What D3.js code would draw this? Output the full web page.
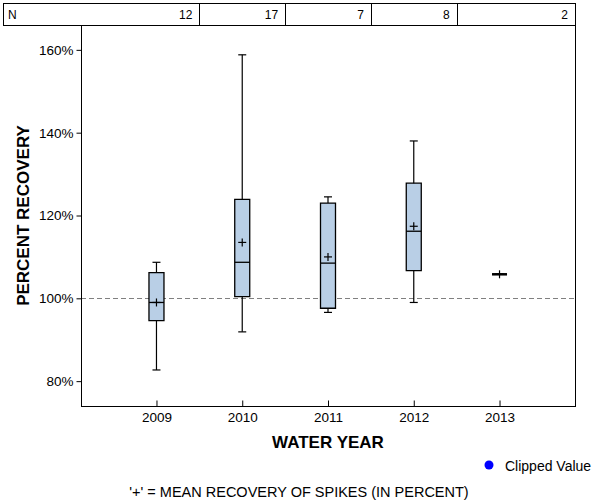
<!DOCTYPE html>
<html>
<head>
<meta charset="utf-8">
<script src="https://cdn.jsdelivr.net/npm/d3@7"></script>
<style>
  html, body { margin: 0; padding: 0; background: #fff; }
  svg { display: block; font-family: "Liberation Sans", Arial, sans-serif; }
</style>
</head>
<body>
<svg id="chart" width="600" height="500"></svg>
<script>
// ---- Data ----
const years       = [2009, 2010, 2011, 2012, 2013];
const nCounts     = [12, 17, 7, 8, 2];
const whiskerLow  = [82.7, 91.9, 96.6, 99.0, 105.8];
const q1          = [94.6, 100.4, 97.6, 106.7, 105.8];
const medians     = [99.0, 108.7, 108.5, 116.2, 105.8];
const q3          = [106.2, 123.9, 123.0, 127.8, 105.8];
const whiskerHigh = [108.7, 158.8, 124.5, 138.0, 105.8];
const means       = [99.0, 113.5, 110.0, 117.4, 105.8];
const yTicks      = [80, 100, 120, 140, 160];
const refValue    = 100;

// ---- Layout ----
const svg = d3.select("#chart");
const plot = { left: 81, right: 575, top: 25, bottom: 406 };
const x = d3.scaleLinear().domain([2008.12, 2013.88]).range([plot.left, plot.right]);
const y = d3.scaleLinear().domain([74, 166]).range([plot.bottom, plot.top]);

const boxW = 15, capW = 8, plusW = 8;

// ---- N table ----
const tbl = svg.append("g");
const tblTop = 3, tblBot = plot.top, tblLeft = 3;
tbl.append("rect").attr("x", tblLeft + 0.5).attr("y", tblTop + 0.5)
  .attr("width", plot.right - tblLeft).attr("height", tblBot - tblTop)
  .attr("fill", "none").attr("stroke", "#000").attr("stroke-width", 1);
const bounds = years.map((yr, i) => i < years.length - 1 ? x(yr + 0.5) : plot.right);
bounds.slice(0, -1).forEach(b => {
  tbl.append("line").attr("x1", Math.round(b) + 0.5).attr("x2", Math.round(b) + 0.5)
    .attr("y1", tblTop).attr("y2", tblBot).attr("stroke", "#000");
});
tbl.append("text").attr("x", 8).attr("y", 19).attr("font-size", 12).text("N");
years.forEach((yr, i) => {
  tbl.append("text").attr("x", bounds[i] - 7).attr("y", 19)
    .attr("text-anchor", "end").attr("font-size", 12).text(nCounts[i]);
});

// ---- Frame ----
svg.append("line").attr("x1", plot.right + 0.5).attr("x2", plot.right + 0.5)
  .attr("y1", plot.top).attr("y2", plot.bottom).attr("stroke", "#000");

// ---- Reference line ----
svg.append("line")
  .attr("x1", plot.left).attr("x2", plot.right)
  .attr("y1", Math.round(y(refValue)) + 0.5).attr("y2", Math.round(y(refValue)) + 0.5)
  .attr("stroke", "#808080").attr("stroke-width", 1).attr("stroke-dasharray", "5,3");

// ---- Axes ----
const yAxis = d3.axisLeft(y).tickValues(yTicks).tickFormat(d => d + "%")
  .tickSize(5).tickSizeOuter(0).tickPadding(3);
const gy = svg.append("g").attr("transform", `translate(${plot.left + 0.5},0)`).call(yAxis);
gy.select(".domain").attr("d", `M0,${plot.top}V${plot.bottom}`);

const xAxis = d3.axisBottom(x).tickValues(years).tickFormat(d3.format("d"))
  .tickSize(-6).tickSizeOuter(0).tickPadding(6);
const gx = svg.append("g").attr("transform", `translate(0,${plot.bottom + 0.5})`).call(xAxis);
gx.select(".domain").attr("d", `M${plot.left},0H${plot.right + 1}`);

svg.selectAll(".tick text").attr("font-size", 13.5).attr("fill", "#000")
  .attr("font-family", "'Liberation Sans', Arial, sans-serif");
svg.selectAll(".tick line, .domain").attr("stroke", "#000");

// ---- Boxes ----
const g = svg.append("g");
years.forEach((yr, i) => {
  const cx = x(yr);
  // whisker line
  g.append("line").attr("x1", cx).attr("x2", cx)
    .attr("y1", y(whiskerLow[i])).attr("y2", y(whiskerHigh[i]))
    .attr("stroke", "#000").attr("stroke-width", 1.2);
  [whiskerLow[i], whiskerHigh[i]].forEach(v => {
    g.append("line").attr("x1", cx - capW / 2).attr("x2", cx + capW / 2)
      .attr("y1", y(v)).attr("y2", y(v)).attr("stroke", "#000").attr("stroke-width", 1.2);
  });
  // box
  const yt = y(q3[i]), yb = y(q1[i]);
  g.append("path")
    .attr("d", `M${cx - boxW / 2},${yt}H${cx + boxW / 2}V${yb}H${cx - boxW / 2}Z`)
    .attr("fill", "#b9cfe6").attr("stroke", "#000").attr("stroke-width", 1.3);
  // median
  g.append("line").attr("x1", cx - boxW / 2).attr("x2", cx + boxW / 2)
    .attr("y1", y(medians[i])).attr("y2", y(medians[i]))
    .attr("stroke", "#000").attr("stroke-width", i === years.length - 1 ? 2.5 : 1.3);
  // mean plus
  const my = y(means[i]);
  g.append("line").attr("x1", cx - plusW / 2).attr("x2", cx + plusW / 2)
    .attr("y1", my).attr("y2", my).attr("stroke", "#000").attr("stroke-width", 1.2);
  g.append("line").attr("x1", cx).attr("x2", cx)
    .attr("y1", my - plusW / 2).attr("y2", my + plusW / 2).attr("stroke", "#000").attr("stroke-width", 1.2);
});

// ---- Titles ----
svg.append("text").attr("x", (plot.left + plot.right) / 2).attr("y", 448)
  .attr("text-anchor", "middle").attr("font-size", 17).attr("font-weight", "bold")
  .text("WATER YEAR");
svg.append("text")
  .attr("transform", `translate(29,${(plot.top + plot.bottom) / 2}) rotate(-90)`)
  .attr("text-anchor", "middle").attr("font-size", 17).attr("font-weight", "bold")
  .text("PERCENT RECOVERY");

// ---- Legend ----
svg.append("circle").attr("cx", 489).attr("cy", 465).attr("r", 4.5).attr("fill", "#0000ff");
svg.append("text").attr("x", 505).attr("y", 471).attr("font-size", 14).text("Clipped Value");

// ---- Footer ----
svg.append("text").attr("x", 299).attr("y", 497).attr("text-anchor", "middle")
  .attr("font-size", 14.5).text("'+' = MEAN RECOVERY OF SPIKES (IN PERCENT)");
</script>
</body>
</html>
